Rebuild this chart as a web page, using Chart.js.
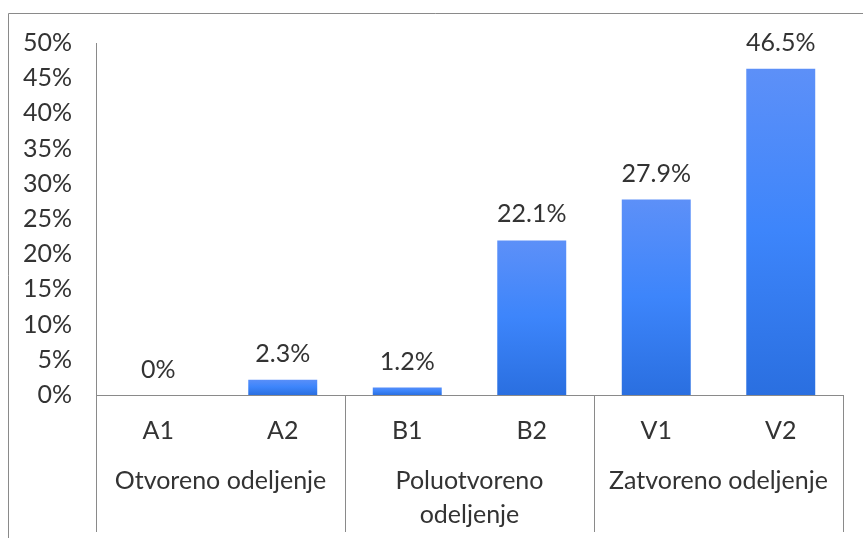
<!DOCTYPE html>
<html>
<head>
<meta charset="utf-8">
<script src="https://cdn.jsdelivr.net/npm/chart.js"></script>
<style>
  html, body { margin: 0; padding: 0; background: #fff; }
  #wrap { width: 863px; height: 538px; position: relative; }
</style>
</head>
<body>
<div id="wrap"><canvas id="chart" width="863" height="538"></canvas></div>
<script>
// Data
const categories = ['A1', 'A2', 'B1', 'B2', 'V1', 'V2'];
const groups = [['Otvoreno odeljenje'], ['Poluotvoreno', 'odeljenje'], ['Zatvoreno odeljenje']];
const values = [0, 2.3, 1.2, 22.1, 27.9, 46.5];
const valueLabels = ['0%', '2.3%', '1.2%', '22.1%', '27.9%', '46.5%'];

const FONT = 'Lato, "Open Sans", sans-serif';
const TEXT = '#333333';
const AXIS = '#8a8a8a';

// Excel-like vertical gradient per bar
function barFill(ctx) {
    const chart = ctx.chart;
    const y = chart.scales.y;
    if (!y || ctx.raw === undefined) return '#3d85fb';
    const top = y.getPixelForValue(ctx.raw);
    const bottom = y.getPixelForValue(0);
    if (!isFinite(top) || bottom - top < 1) return '#3d85fb';
    const g = chart.ctx.createLinearGradient(0, top, 0, bottom);
    g.addColorStop(0, '#5d90f8');
    g.addColorStop(0.5, '#3d85fb');
    g.addColorStop(1, '#2a6fe0');
    return g;
}

const extras = {
    id: 'extras',
    beforeDraw(chart) {
        const c = chart.ctx;
        c.save();
        c.strokeStyle = '#8a8a8a';
        c.lineWidth = 1;
        c.beginPath();
        c.moveTo(8.5, 538);
        c.lineTo(8.5, 13.5);
        c.lineTo(863, 13.5);
        c.stroke();
        c.restore();
    },
    afterDraw(chart) {
        const c = chart.ctx;
        const x = chart.scales.x;
        const y = chart.scales.y;
        const step = x.getPixelForValue(1) - x.getPixelForValue(0);
        const base = y.getPixelForValue(0);
        c.save();
        // group separators
        c.strokeStyle = AXIS;
        c.lineWidth = 1;
        for (let i = 0; i <= groups.length; i++) {
            const px = Math.round(x.getPixelForValue(i * 2) - step / 2) + 0.5;
            c.beginPath();
            c.moveTo(px, base);
            c.lineTo(px, 532);
            c.stroke();
        }
        // group labels
        c.fillStyle = TEXT;
        c.font = '25px ' + FONT;
        c.textAlign = 'center';
        c.textBaseline = 'middle';
        groups.forEach((lines, i) => {
            const cx = (x.getPixelForValue(i * 2) + x.getPixelForValue(i * 2 + 1)) / 2;
            lines.forEach((t, j) => c.fillText(t, cx, 481 + j * 34));
        });
        // value labels
        const meta = chart.getDatasetMeta(0);
        meta.data.forEach((bar, i) => {
            c.fillText(valueLabels[i], bar.x, y.getPixelForValue(values[i]) - 25);
        });
        c.restore();
    }
};

new Chart(document.getElementById('chart'), {
    type: 'bar',
    data: {
        labels: categories,
        datasets: [{
            data: values,
            backgroundColor: barFill,
            borderColor: 'rgba(255,255,255,0.3)',
            borderWidth: 1,
            categoryPercentage: 1,
            barPercentage: 0.57
        }]
    },
    options: {
        responsive: false,
        animation: false,
        layout: { padding: { top: 43, right: 20, left: 0, bottom: 0 } },
        plugins: {
            legend: { display: false },
            tooltip: { enabled: false }
        },
        scales: {
            x: {
                grid: { display: false, drawTicks: false },
                border: { display: true, color: AXIS, width: 1 },
                ticks: {
                    color: TEXT,
                    font: { family: FONT, size: 25 },
                    padding: 21,
                    maxRotation: 0
                },
                afterFit(scale) { scale.height = 143; }
            },
            y: {
                min: 0,
                max: 50,
                grid: { display: false, drawTicks: false },
                border: { display: true, color: AXIS, width: 1 },
                ticks: {
                    stepSize: 5,
                    color: TEXT,
                    font: { family: FONT, size: 25 },
                    padding: 24,
                    callback: v => v + '%'
                },
                afterFit(scale) { scale.width = 96; }
            }
        }
    },
    plugins: [extras]
});
</script>
</body>
</html>
